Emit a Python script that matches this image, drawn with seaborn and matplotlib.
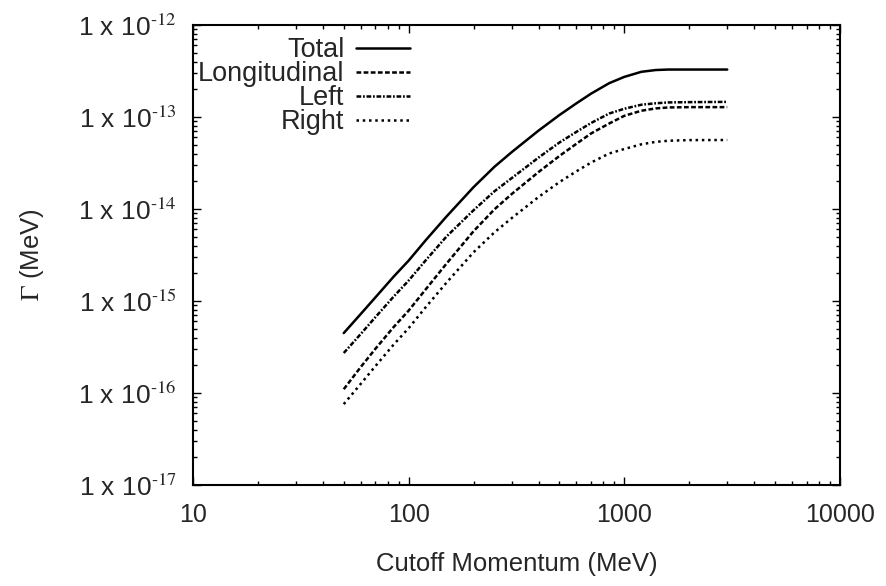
import matplotlib
matplotlib.use("Agg")
import matplotlib.pyplot as plt
import matplotlib.ticker as mticker
import seaborn as sns
import pandas as pd
import numpy as np

# ---- data ----
cutoff = [50, 60, 70, 85, 100, 120, 150, 200, 250, 300, 400, 500, 600, 700, 850,
          1000, 1200, 1400, 1600, 2000, 3000]
total = [4.48e-16, 7.24e-16, 1.09e-15, 1.83e-15, 2.75e-15, 4.58e-15, 8.32e-15, 1.73e-14,
         2.88e-14, 4.14e-14, 7.11e-14, 1.05e-13, 1.41e-13, 1.79e-13, 2.33e-13,
         2.73e-13, 3.1e-13, 3.24e-13, 3.28e-13, 3.28e-13, 3.28e-13]
longitudinal = [1.1e-16, 1.92e-16, 3.01e-16, 5.18e-16, 7.87e-16, 1.34e-15, 2.56e-15, 5.74e-15,
                9.93e-15, 1.45e-14, 2.52e-14, 3.77e-14, 5.12e-14, 6.61e-14, 8.49e-14,
                1.03e-13, 1.17e-13, 1.24e-13, 1.27e-13, 1.28e-13, 1.28e-13]
left = [2.72e-16, 4.39e-16, 6.64e-16, 1.11e-15, 1.67e-15, 2.77e-15, 5.04e-15, 9.7e-15,
        1.56e-14, 2.16e-14, 3.62e-14, 5.28e-14, 6.9e-14, 8.59e-14, 1.09e-13,
        1.23e-13, 1.36e-13, 1.41e-13, 1.44e-13, 1.45e-13, 1.46e-13]
right = [7.57e-17, 1.26e-16, 1.95e-16, 3.34e-16, 5.07e-16, 8.57e-16, 1.59e-15, 3.39e-15,
         5.58e-15, 7.94e-15, 1.35e-14, 1.96e-14, 2.57e-14, 3.19e-14, 4.01e-14,
         4.49e-14, 5.05e-14, 5.37e-14, 5.52e-14, 5.61e-14, 5.62e-14]
series_names = ["Total", "Longitudinal", "Left", "Right"]
x_ticks = [10, 100, 1000, 10000]
y_ticks = [1e-17, 1e-16, 1e-15, 1e-14, 1e-13, 1e-12]

df = pd.DataFrame({
    "cutoff": cutoff * 4,
    "gamma": total + longitudinal + left + right,
    "series": sum([[n] * len(cutoff) for n in series_names], []),
})

sns.set_theme(style="white")
plt.rcParams["font.family"] = ["Liberation Sans", "DejaVu Sans"]
plt.rcParams["mathtext.fontset"] = "stix"
plt.rcParams["mathtext.default"] = "regular"

fig = plt.figure(figsize=(8.86, 5.86), dpi=100)
ax = fig.add_axes([193 / 886, 1 - 485 / 586, (840 - 193) / 886, (485 - 25) / 586])

styles = {
    "Total": "-",
    "Longitudinal": (0, (1.9, 0.95)),
    "Left": (0, (1.9, 0.7, 0.7, 0.7)),
    "Right": (0, (1.0, 1.5)),
}
for name in series_names:
    sub = df[df["series"] == name]
    sns.lineplot(data=sub, x="cutoff", y="gamma", ax=ax, color="black",
                 linewidth=1.8, linestyle=styles[name], label=name,
                 estimator=None, sort=False)

ax.set_xscale("log")
ax.set_yscale("log")
ax.set_xlim(10, 10000)
ax.set_ylim(1e-17, 1e-12)
ax.set_xticks(x_ticks)
ax.set_yticks(y_ticks)
ax.xaxis.set_major_formatter(mticker.FuncFormatter(lambda v, p: f"{int(round(v))}"))

def yfmt(v, p):
    e = int(round(np.log10(v)))
    return r"1 x 10$^{\text{%d}}$" % e

ax.yaxis.set_major_formatter(mticker.FuncFormatter(yfmt))
ax.xaxis.set_minor_locator(mticker.LogLocator(base=10, subs=np.arange(2, 10), numticks=20))
ax.yaxis.set_minor_locator(mticker.LogLocator(base=10, subs=np.arange(2, 10), numticks=20))
ax.yaxis.set_minor_formatter(mticker.NullFormatter())
ax.xaxis.set_minor_formatter(mticker.NullFormatter())

ax.tick_params(which="both", direction="in", top=True, right=True, bottom=True, left=True,
               color="black", width=1.0)
ax.tick_params(which="major", length=6)
ax.tick_params(axis="x", which="major", pad=13, labelsize=18)
ax.tick_params(axis="y", which="major", pad=12, labelsize=19)
ax.tick_params(which="minor", length=3)
for s in ax.spines.values():
    s.set_color("black")
    s.set_linewidth(1.5)

ax.set_xlabel("Cutoff Momentum (MeV)", fontsize=18.5, labelpad=18)
ax.set_ylabel(r"$\mathrm{\Gamma}$ (MeV)", fontsize=18.5, labelpad=23)

leg = ax.legend(loc="upper right", bbox_to_anchor=((410 - 193) / 647, (485 - 37) / 460),
                frameon=False, markerfirst=False, fontsize=19.5, handlelength=2.0,
                handletextpad=0.42, labelspacing=-0.07, borderaxespad=0.0, borderpad=0.0)

fig.savefig("out.png", dpi=100)
